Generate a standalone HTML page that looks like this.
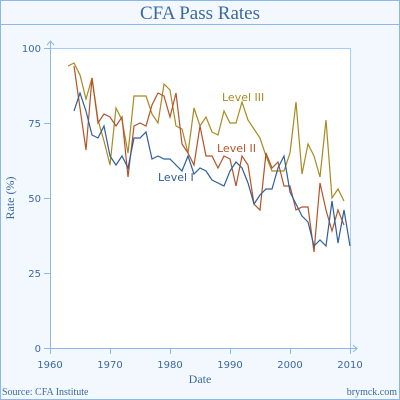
<!DOCTYPE html>
<html><head><meta charset="utf-8"><style>
body{margin:0;width:400px;height:400px;overflow:hidden;background:#fff}
svg{display:block}
</style></head><body>
<svg width="400" height="400">
<rect x="0.5" y="0.5" width="399" height="399" fill="#f3f7fe" stroke="#8ab8e8"/>
<line x1="0" y1="24.5" x2="400" y2="24.5" stroke="#8ab8e8"/>
<text x="200" y="19" text-anchor="middle" font-family="Liberation Serif, serif" font-size="19" fill="#3a6aa0">CFA Pass Rates</text>
<rect x="50.5" y="48.5" width="300" height="300" fill="#fff" stroke="#a8cdf0"/>
<g id="axes"></g>
<g id="series"></g>
<text x="222" y="101" font-family="DejaVu Sans, sans-serif" font-size="11" fill="#a88a22">Level III</text>
<text x="217" y="152" font-family="DejaVu Sans, sans-serif" font-size="11" fill="#b5532a">Level II</text>
<text x="158" y="181" font-family="DejaVu Sans, sans-serif" font-size="11" fill="#2e5f9a">Level I</text>
<text transform="translate(14,198) rotate(-90)" text-anchor="middle" font-family="Liberation Serif, serif" font-size="12" fill="#3a6aa0">Rate (%)</text>
<text x="200" y="383" text-anchor="middle" font-family="Liberation Serif, serif" font-size="12" fill="#3a6aa0">Date</text>
<text x="2" y="395" font-family="Liberation Serif, serif" font-size="10" fill="#3a6aa0">Source: CFA Institute</text>
<text x="397" y="395" text-anchor="end" font-family="Liberation Serif, serif" font-size="10" fill="#3a6aa0">brymck.com</text>
</svg>
<script>
const xTicks=[1960,1970,1980,1990,2000,2010];
const yTicks=[0,25,50,75,100];
const yearsIII=[1963,1964,1965,1966,1967,1968,1969,1970,1971,1972,1973,1974,1975,1976,1977,1978,1979,1980,1981,1982,1983,1984,1985,1986,1987,1988,1989,1990,1991,1992,1993,1994,1995,1996,1997,1998,1999,2000,2001,2002,2003,2004,2005,2006,2007,2008,2009];
const levelIII=[94,95,91,83,90,76,69,61,80,76,65,84,84,84,78,75,88,86,74,73,65,80,74,77,72,71,79,75,75,82,76,73,70,64,59,59,59,65,82,58,68,64,57,76,50,53,49];
const yearsII=[1964,1965,1966,1967,1968,1969,1970,1971,1972,1973,1974,1975,1976,1977,1978,1979,1980,1981,1982,1983,1984,1985,1986,1987,1988,1989,1990,1991,1992,1993,1994,1995,1996,1997,1998,1999,2000,2001,2002,2003,2004,2005,2006,2007,2008,2009];
const levelII=[94,80,66,90,75,78,77,74,77,57,74,75,74,81,85,84,77,85,68,65,61,74,64,64,60,64,63,54,64,61,48,46,65,60,62,54,54,46,47,47,32,55,46,39,46,41];
const yearsI=[1964,1965,1966,1967,1968,1969,1970,1971,1972,1973,1974,1975,1976,1977,1978,1979,1980,1981,1982,1983,1984,1985,1986,1987,1988,1989,1990,1991,1992,1993,1994,1995,1996,1997,1998,1999,2000,2001,2002,2003,2004,2005,2006,2007,2008,2009,2010];
const levelI=[79,85,79,71,70,74,64,61,64,60,70,70,72,63,64,63,63,61,59,64,58,60,59,56,55,54,59,62,60,55,48,51,53,53,60,64,52,48,44,42,34,36,34,49,35,46,34];
const NS='http://www.w3.org/2000/svg';
const xs=y=>50+(y-1960)*6, ys=v=>348-v*3;
const ax=document.getElementById('axes');
function mk(p,tag,at){const e=document.createElementNS(NS,tag);for(const k in at)e.setAttribute(k,at[k]);p.appendChild(e);return e;}
const axc='#8ab8e8',tc='#3a6aa0';
let l=mk(ax,'path',{d:'M50.5,348 V41 M47,45 L50.5,41 L54,45',stroke:axc,fill:'none'});


l=mk(ax,'path',{d:'M50,348.5 H357 M353,345 L357,348.5 L353,352',stroke:axc,fill:'none'});


xTicks.forEach(t=>{
 const tk=mk(ax,'line',{x1:xs(t)+.5,x2:xs(t)+.5,y1:348,y2:354,stroke:axc});
 
 
 const tx=mk(ax,'text',{x:xs(t),y:368,'text-anchor':'middle','font-family':'DejaVu Sans, sans-serif','font-size':'10',fill:tc});
 tx.textContent=t;
 
 
});
yTicks.forEach(t=>{
 const tk=mk(ax,'line',{x1:44,x2:50,y1:ys(t)+.5,y2:ys(t)+.5,stroke:axc});
 
 
 const tx=mk(ax,'text',{x:41,y:ys(t)+4,'text-anchor':'end','font-family':'DejaVu Sans, sans-serif','font-size':'10',fill:tc});
 tx.textContent=t;
 
 
});
const sg=document.getElementById('series');
[[yearsIII,levelIII,'#a88a22','line-level-iii'],[yearsII,levelII,'#b5532a','line-level-ii'],[yearsI,levelI,'#2e5f9a','line-level-i']].forEach(([yr,v,c,n])=>{
 const p=mk(sg,'polyline',{points:yr.map((y,i)=>xs(y)+','+ys(v[i])).join(' '),fill:'none',stroke:c,'stroke-width':'1.2'});
 
 
});
</script>
</body></html>
